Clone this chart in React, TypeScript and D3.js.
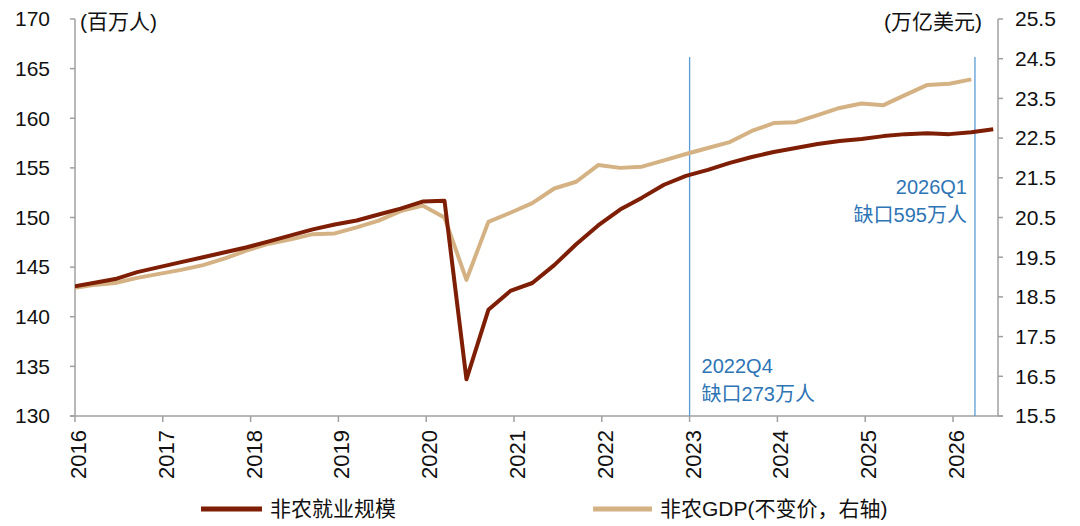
import * as d3 from "d3";

// quarterly data, 2015Q4 .. 2026Q2
const quarters = [
  "2015Q4",
  "2016Q1", "2016Q2", "2016Q3", "2016Q4",
  "2017Q1", "2017Q2", "2017Q3", "2017Q4",
  "2018Q1", "2018Q2", "2018Q3", "2018Q4",
  "2019Q1", "2019Q2", "2019Q3", "2019Q4",
  "2020Q1", "2020Q2", "2020Q3", "2020Q4",
  "2021Q1", "2021Q2", "2021Q3", "2021Q4",
  "2022Q1", "2022Q2", "2022Q3", "2022Q4",
  "2023Q1", "2023Q2", "2023Q3", "2023Q4",
  "2024Q1", "2024Q2", "2024Q3", "2024Q4",
  "2025Q1", "2025Q2", "2025Q3", "2025Q4",
  "2026Q1", "2026Q2",
];

// 非农就业规模 (百万人)
const payrolls = [
  143.0,
  143.4, 143.8, 144.5, 145.0,
  145.5, 146.0, 146.5, 147.0,
  147.6, 148.2, 148.8, 149.3,
  149.7, 150.3, 150.9, 151.6,
  151.7, 133.7, 140.7, 142.6,
  143.4, 145.2, 147.3, 149.2,
  150.8, 152.0, 153.3, 154.2,
  154.8, 155.5, 156.1, 156.6,
  157.0, 157.4, 157.7, 157.9,
  158.2, 158.4, 158.5, 158.4,
  158.6, 158.9,
];

// 非农GDP (万亿美元, 不变价), ends 2026Q1
const gdp = [
  18.72,
  18.8, 18.85, 18.98, 19.08,
  19.18, 19.3, 19.47, 19.67,
  19.84, 19.95, 20.08, 20.1,
  20.25, 20.42, 20.66, 20.8,
  20.5, 18.93, 20.39, 20.62,
  20.86, 21.23, 21.4, 21.82,
  21.75, 21.78, 21.94, 22.1,
  22.25, 22.4, 22.68, 22.88,
  22.9, 23.08, 23.26, 23.37,
  23.33, 23.59, 23.84, 23.87,
  23.98,
];

const years = [2016, 2017, 2018, 2019, 2020, 2021, 2022, 2023, 2024, 2025, 2026];
const leftTicks = [130, 135, 140, 145, 150, 155, 160, 165, 170];
const rightTicks = [15.5, 16.5, 17.5, 18.5, 19.5, 20.5, 21.5, 22.5, 23.5, 24.5, 25.5];

// text position given in left-axis units
const markers = [
  { quarter: "2022Q4", lines: ["2022Q4", "缺口273万人"], side: "right", textTop: 135.0 },
  { quarter: "2026Q1", lines: ["2026Q1", "缺口595万人"], side: "left", textTop: 153.1 },
];

const W = 1080;
const H = 526;
const plot = { left: 75, right: 998, top: 19, bottom: 416 };
const empColor = "#7e1e05";
const gdpColor = "#d4b283";
const axisColor = "#a0a0a0";
const blue = "#5b9bd5";
const blueText = "#2e75b6";
const font = "'Liberation Sans', Arial, 'Noto Sans CJK SC', sans-serif";

// mid-month of the last month in the quarter
const qMid = (q: string) => {
  const y = +q.slice(0, 4);
  const n = +q.slice(5);
  return y + (n * 3 - 0.5) / 12;
};
const qEnd = (q: string) => {
  const y = +q.slice(0, 4);
  const n = +q.slice(5);
  return y + (n * 3) / 12;
};

const x = d3.scaleLinear().domain([2016, 2016 + (998 - 75) / 87.8]).range([plot.left, plot.right]);
const yL = d3.scaleLinear().domain([130, 170]).range([plot.bottom, plot.top]);
const yR = d3.scaleLinear().domain([15.5, 25.5]).range([plot.bottom, plot.top]);

export default function App() {
  const empLine = d3
    .line<number>()
    .x((_, i) => x(qMid(quarters[i])))
    .y((d) => yL(d));
  const gdpLine = d3
    .line<number>()
    .x((_, i) => x(qMid(quarters[i])))
    .y((d) => yR(d));

  return (
    <svg
      width={W}
      height={H}
      style={{ position: "absolute", left: 0, top: 0, background: "#fff" }}
      fontFamily={font}
    >
      <defs>
        <clipPath id="plot-clip">
          <rect x={plot.left} y={0} width={plot.right - plot.left + 2} height={H} />
        </clipPath>
      </defs>

      {/* axes */}
      <line x1={plot.left} x2={plot.left} y1={plot.top} y2={plot.bottom} stroke={axisColor} strokeWidth={1.5} />
      <line x1={plot.right} x2={plot.right} y1={plot.top} y2={plot.bottom} stroke={axisColor} strokeWidth={1.5} />
      <line x1={plot.left - 5} x2={plot.right + 5} y1={plot.bottom} y2={plot.bottom} stroke={axisColor} strokeWidth={1.5} />

      {leftTicks.map((t) => (
        <g key={`l${t}`}>
          <line x1={plot.left - 5} x2={plot.left} y1={yL(t)} y2={yL(t)} stroke={axisColor} strokeWidth={1.5} />
          <text x={plot.left - 25} y={yL(t)} dy="0.35em" textAnchor="end" fontSize={21} fill="#111">
            {t}
          </text>
        </g>
      ))}

      {rightTicks.map((t) => (
        <g key={`r${t}`}>
          <line x1={plot.right} x2={plot.right + 5} y1={yR(t)} y2={yR(t)} stroke={axisColor} strokeWidth={1.5} />
          <text x={plot.right + 17} y={yR(t)} dy="0.35em" textAnchor="start" fontSize={21} fill="#111">
            {t.toFixed(1)}
          </text>
        </g>
      ))}

      {years.map((yr) => (
        <g key={yr}>
          <line x1={x(yr)} x2={x(yr)} y1={plot.bottom} y2={plot.bottom + 6} stroke={axisColor} strokeWidth={1.5} />
          <text
            transform={`translate(${x(yr)},${plot.bottom + 14}) rotate(-90)`}
            dy="0.5em"
            textAnchor="end"
            fontSize={22}
            fill="#111"
          >
            {yr}
          </text>
        </g>
      ))}

      <text x={plot.left + 5} y={22} dy="0.35em" fontSize={21} fill="#111">
        (百万人)
      </text>
      <text x={plot.right - 16} y={22} dy="0.35em" textAnchor="end" fontSize={21} fill="#111">
        (万亿美元)
      </text>

      {/* gap markers */}
      {markers.map((m) => {
        const mx = x(qEnd(m.quarter));
        const tx = m.side === "right" ? mx + 12 : mx - 8;
        const anchor = m.side === "right" ? "start" : "end";
        return (
          <g key={m.quarter}>
            <line x1={mx} x2={mx} y1={57} y2={plot.bottom} stroke={blue} strokeWidth={1.3} />
            {m.lines.map((s, i) => (
              <text
                key={s}
                x={tx}
                y={yL(m.textTop) + i * 28}
                dy="0.35em"
                textAnchor={anchor}
                fontSize={20}
                fill={blueText}
              >
                {s}
              </text>
            ))}
          </g>
        );
      })}

      <g clipPath="url(#plot-clip)">
        <path d={gdpLine(gdp) ?? ""} fill="none" stroke={gdpColor} strokeWidth={4} strokeLinejoin="round" />
        <path d={empLine(payrolls) ?? ""} fill="none" stroke={empColor} strokeWidth={4} strokeLinejoin="round" />
      </g>

      {/* legend */}
      <line x1={201} x2={262} y1={509} y2={509} stroke={empColor} strokeWidth={5} />
      <text x={270} y={509} dy="0.35em" fontSize={21} fill="#111">
        非农就业规模
      </text>
      <line x1={593} x2={652} y1={509} y2={509} stroke={gdpColor} strokeWidth={5} />
      <text x={660} y={509} dy="0.35em" fontSize={21} fill="#111">
        非农GDP(不变价，右轴)
      </text>
    </svg>
  );
}
